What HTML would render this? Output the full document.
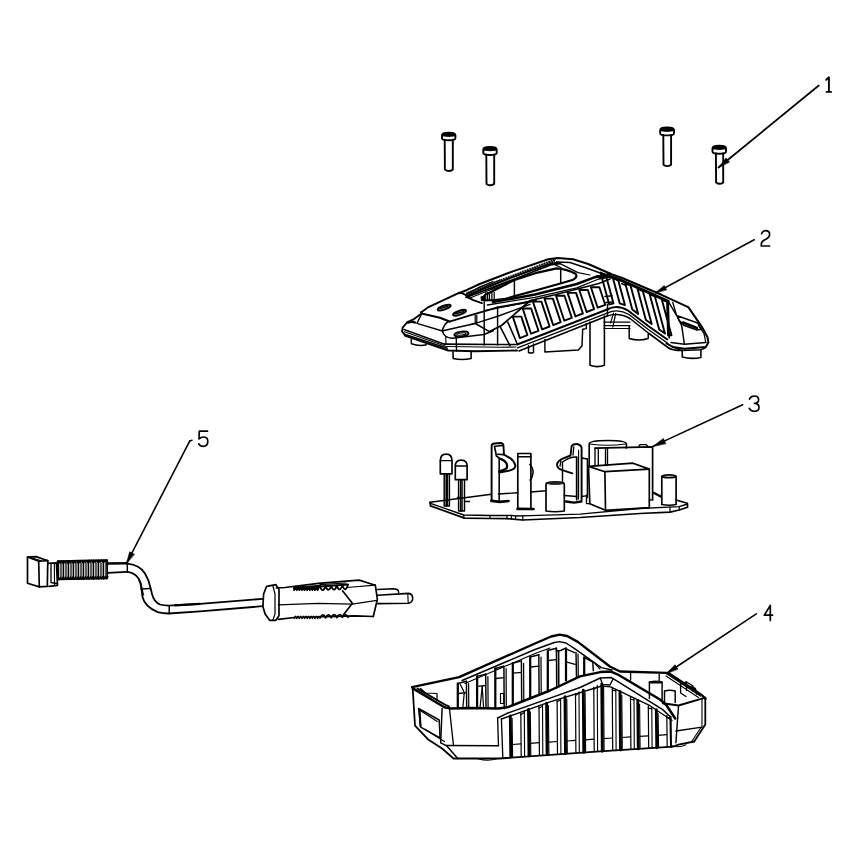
<!DOCTYPE html>
<html><head><meta charset="utf-8">
<style>html,body{margin:0;padding:0;background:#fff;overflow:hidden}svg{display:block}</style></head>
<body><svg width="841" height="842" viewBox="0 0 841 842" stroke-linejoin="round" stroke-linecap="round">
<rect width="841" height="842" fill="#fff"/>
<path d="M444.7,139.8 L444.9,169.6 Q448.75,172.39999999999998 452.8,169.6 L452.8,139.8" fill="none" stroke="#000" stroke-width="1.90"/>
<path d="M442,135.0 Q442,132.6 448.7,132.6 Q455.4,132.6 455.4,135.0 L455.4,138.3 Q455.4,140.3 448.7,140.3 Q442,140.3 442,138.3 Z" fill="none" stroke="#000" stroke-width="1.90"/>
<path d="M442.3,134.79999999999998 Q442.5,133.0 448.7,133.0 Q454.9,133.0 455.09999999999997,134.79999999999998 L455.09999999999997,135.79999999999998 Q448.7,137.2 442.3,135.79999999999998 Z" fill="#000" stroke="#000" stroke-width="0.90"/>
<path d="M486.3,154.5 L486.5,183.9 Q490.25,186.7 494.2,183.9 L494.2,154.5" fill="none" stroke="#000" stroke-width="1.90"/>
<path d="M483.3,149.3 Q483.3,146.9 490.0,146.9 Q496.7,146.9 496.7,149.3 L496.7,153 Q496.7,155 490.0,155 Q483.3,155 483.3,153 Z" fill="none" stroke="#000" stroke-width="1.90"/>
<path d="M483.6,149.1 Q483.8,147.3 490.0,147.3 Q496.2,147.3 496.4,149.1 L496.4,150.1 Q490.0,151.5 483.6,150.1 Z" fill="#000" stroke="#000" stroke-width="0.90"/>
<path d="M663.3,134.9 L663.5,164.70000000000002 Q667.2,167.5 671.1,164.70000000000002 L671.1,134.9" fill="none" stroke="#000" stroke-width="1.90"/>
<path d="M660.2,129.9 Q660.2,127.5 667.1,127.5 Q674,127.5 674,129.9 L674,133.4 Q674,135.4 667.1,135.4 Q660.2,135.4 660.2,133.4 Z" fill="none" stroke="#000" stroke-width="1.90"/>
<path d="M660.5,129.7 Q660.7,127.9 667.1,127.9 Q673.5,127.9 673.7,129.7 L673.7,130.7 Q667.1,132.1 660.5,130.7 Z" fill="#000" stroke="#000" stroke-width="0.90"/>
<path d="M715.9,153.2 L716.1,182.4 Q719.55,185.2 723.2,182.4 L723.2,153.2" fill="none" stroke="#000" stroke-width="1.90"/>
<path d="M712.5,148.0 Q712.5,145.6 719.25,145.6 Q726,145.6 726,148.0 L726,151.7 Q726,153.7 719.25,153.7 Q712.5,153.7 712.5,151.7 Z" fill="none" stroke="#000" stroke-width="1.90"/>
<path d="M712.8,147.79999999999998 Q713.0,146.0 719.25,146.0 Q725.5,146.0 725.7,147.79999999999998 L725.7,148.79999999999998 Q719.25,150.2 712.8,148.79999999999998 Z" fill="#000" stroke="#000" stroke-width="0.90"/>
<path d="M818.8,85.5 L718.5,167.5" fill="none" stroke="#000" stroke-width="1.68"/>
<path d="M718.5,167.5 L726.1,157.9 L729.4,161.9 Z" fill="#000" stroke="#000" stroke-width="0.56"/>
<path d="M754.2,239.7 L655.7,292.8" fill="none" stroke="#000" stroke-width="1.57"/>
<path d="M655.7,292.8 L664.2,285.5 L666.5,289.7 Z" fill="#000" stroke="#000" stroke-width="0.56"/>
<path d="M742.7,404.7 L652.8,446.4" fill="none" stroke="#000" stroke-width="1.57"/>
<path d="M652.8,446.4 L663.4,438.4 L665.8,443.5 Z" fill="#000" stroke="#000" stroke-width="0.56"/>
<path d="M756.3,613.8 L666.4,673.5" fill="none" stroke="#000" stroke-width="1.57"/>
<path d="M666.4,673.5 L675.0,664.7 L677.8,669.0 Z" fill="#000" stroke="#000" stroke-width="0.56"/>
<path d="M192.0,440.3 L189.8,440.9" fill="none" stroke="#000" stroke-width="1.57"/>
<path d="M189.8,440.9 L126.4,563.7" fill="none" stroke="#000" stroke-width="1.57"/>
<path d="M126.4,563.7 L129.6,551.8 L134.2,554.2 Z" fill="#000" stroke="#000" stroke-width="0.56"/>
<path d="M826.2,79.8 L828.9,77.3 L828.9,91.9 M826.6,91.9 L831.1,91.9" fill="none" stroke="#000" stroke-width="1.90"/>
<path d="M761.6,233.6 Q762.8,230.6 765.6,230.6 Q769.6,230.6 769.6,234.3 Q769.6,237.6 765.8,239.2 Q761.3,241.2 761.3,244.2 L761.3,246 L769.6,246" fill="none" stroke="#000" stroke-width="1.68"/>
<path d="M749.5,399 Q751,396 754.2,396 Q758.6,396 758.6,399.8 Q758.6,403.2 754.5,403.4 Q759,403.6 759,407.5 Q759,411.3 754.2,411.3 Q750.5,411.3 749.3,408.3" fill="none" stroke="#000" stroke-width="1.68"/>
<path d="M770.3,620.4 L770.3,605.4 L764.3,615.2 L772.6,615.2" fill="none" stroke="#000" stroke-width="1.68"/>
<path d="M207.5,431.2 L199.3,431.2 L199,438.8 Q201,437 203.5,437 Q207.8,437 207.8,441.5 Q207.8,446.3 203.2,446.3 Q200,446.3 198.8,443.8" fill="none" stroke="#000" stroke-width="1.68"/>
<path d="M421.0,312.5 L428.5,307.1 L459.0,292.8 L461.9,293.1 L465.7,295.0 L467.6,297.4 L473.3,300.2 L481.9,303.1" fill="none" stroke="#000" stroke-width="1.90"/>
<path d="M421.0,312.5 L422.6,313.8 L440.0,317.8 L449.5,321.6" fill="none" stroke="#000" stroke-width="2.13"/>
<path d="M449.5,321.6 L470.0,315.3 L498.5,307.1 L530.0,301.8 L536.0,300.0" fill="none" stroke="#000" stroke-width="1.90"/>
<path d="M484.7,310.7 L520.0,303.6 L532.0,300.5" fill="none" stroke="#000" stroke-width="1.34"/>
<ellipse cx="444.2" cy="307.6" rx="6.8" ry="1.9" transform="rotate(-19 444.2 307.6)" fill="none" stroke="#000" stroke-width="2.02"/>
<path d="M440.5,308.6 L448.0,306.3" fill="none" stroke="#000" stroke-width="1.46"/>
<ellipse cx="459.5" cy="312.8" rx="6.8" ry="1.9" transform="rotate(-19 459.5 312.8)" fill="none" stroke="#000" stroke-width="2.02"/>
<path d="M455.8,313.8 L463.3,311.6" fill="none" stroke="#000" stroke-width="1.46"/>
<path d="M465.7,294.5 L480.0,286.9 L493.0,281.5" fill="none" stroke="#000" stroke-width="1.23"/>
<path d="M468.5,296.4 L487.6,285.5 L500.0,280.0" fill="none" stroke="#000" stroke-width="1.23"/>
<path d="M470.0,298.0 L490.0,290.0 L505.0,285.0" fill="none" stroke="#000" stroke-width="1.12"/>
<path d="M481,297 L484.5,296 L484.7,301 L481.5,300.5 Z" fill="#000" stroke="#000" stroke-width="1.12"/>
<path d="M421.6,313.4 L414.0,319.1 L407.4,322.0 L402.6,327.7 L402.1,331.5 L405.5,335.8" fill="none" stroke="#000" stroke-width="1.90"/>
<path d="M408,322.5 Q412,321 415,322.5" fill="none" stroke="#000" stroke-width="2.46"/>
<path d="M421.6,314.0 L416.9,323.4 L442.4,331.0" fill="none" stroke="#000" stroke-width="1.46"/>
<path d="M448.6,321.2 Q443.5,325 442.4,330.7 Q443,334.5 445.7,336.4 Q448,338 452.4,338.3 L483.8,334.5 L493.3,330.7" fill="none" stroke="#000" stroke-width="1.57"/>
<path d="M442.9,330.7 L475.2,323.5 L489.5,331.6" fill="none" stroke="#000" stroke-width="1.46"/>
<path d="M475.2,315.4 L475.2,323.5" fill="none" stroke="#000" stroke-width="1.23"/>
<path d="M476.8,315.0 L476.8,323.0" fill="none" stroke="#000" stroke-width="1.23"/>
<path d="M404.0,329.5 L444.5,344.2" fill="none" stroke="#000" stroke-width="1.46"/>
<path d="M404.5,331.8 L446.4,346.5" fill="none" stroke="#000" stroke-width="1.12"/>
<path d="M404.5,334.3 L447.2,348.3" fill="none" stroke="#000" stroke-width="1.46"/>
<path d="M405.5,335.8 L448.3,350.5 L475.0,351.2 L517.0,350.5" fill="none" stroke="#000" stroke-width="1.90"/>
<path d="M444.5,344.2 L500.0,344.5 L517.0,344.5" fill="none" stroke="#000" stroke-width="1.68"/>
<path d="M446.4,346.5 L500.0,347.2 L516.0,347.0" fill="none" stroke="#000" stroke-width="1.12"/>
<ellipse cx="461.4" cy="334.0" rx="7.1" ry="2.4" transform="rotate(-8 461.4 334.0)" fill="none" stroke="#000" stroke-width="1.90"/>
<ellipse cx="461.4" cy="334.0" rx="4.5" ry="1.0" transform="rotate(-8 461.4 334.0)" fill="none" stroke="#000" stroke-width="1.23"/>
<path d="M456.2,336.0 L456.5,351.0" fill="none" stroke="#000" stroke-width="1.34"/>
<path d="M470.0,324.6 L479.3,322.1 L498.5,316.0 L530.0,304.3" fill="none" stroke="#000" stroke-width="1.34"/>
<path d="M445.7,336.4 L446.0,344.0" fill="none" stroke="#000" stroke-width="1.12"/>
<path d="M411.2,339.5 L411.4,343.8 Q419,346.5 426.4,344.8" fill="none" stroke="#000" stroke-width="1.46"/>
<path d="M453,352 L453.2,358.6 Q462,360.5 471.1,358.6 L471.1,352" fill="none" stroke="#000" stroke-width="1.57"/>
<path d="M528.5,345.7 L528.5,352.5 Q531,353.5 533.5,352.5 L533.5,344" fill="none" stroke="#000" stroke-width="1.46"/>
<path d="M459.0,293.1 L466.4,290.2 L479.7,284.0 L512.1,271.6 L548.2,259.3 L557.7,257.9 L573.0,259.3 L588.2,264.0 L612.1,274.5 L621.6,277.7 L661.5,294.8 L688.2,307.2" fill="none" stroke="#000" stroke-width="2.02"/>
<path d="M466.4,296.0 L512.1,277.3 L550.1,264.0 L557.7,262.1 L570.0,262.5 L585.0,267.5 L610.0,276.5" fill="none" stroke="#000" stroke-width="1.46"/>
<path d="M466.0,295.5 L467.3,292.3" fill="none" stroke="#000" stroke-width="1.12"/>
<path d="M467.7,294.8 L469.0,291.6" fill="none" stroke="#000" stroke-width="1.12"/>
<path d="M469.5,294.2 L470.8,291.0" fill="none" stroke="#000" stroke-width="1.12"/>
<path d="M471.2,293.5 L472.5,290.3" fill="none" stroke="#000" stroke-width="1.12"/>
<path d="M472.9,292.9 L474.2,289.7" fill="none" stroke="#000" stroke-width="1.12"/>
<path d="M474.6,292.2 L475.9,289.0" fill="none" stroke="#000" stroke-width="1.12"/>
<path d="M476.4,291.6 L477.7,288.4" fill="none" stroke="#000" stroke-width="1.12"/>
<path d="M478.1,290.9 L479.4,287.7" fill="none" stroke="#000" stroke-width="1.12"/>
<path d="M479.8,290.2 L481.1,287.0" fill="none" stroke="#000" stroke-width="1.12"/>
<path d="M481.5,289.6 L482.8,286.4" fill="none" stroke="#000" stroke-width="1.12"/>
<path d="M483.3,288.9 L484.6,285.7" fill="none" stroke="#000" stroke-width="1.12"/>
<path d="M485.0,288.3 L486.3,285.1" fill="none" stroke="#000" stroke-width="1.12"/>
<path d="M486.7,287.6 L488.0,284.4" fill="none" stroke="#000" stroke-width="1.12"/>
<path d="M488.4,287.0 L489.7,283.8" fill="none" stroke="#000" stroke-width="1.12"/>
<path d="M490.2,286.3 L491.5,283.1" fill="none" stroke="#000" stroke-width="1.12"/>
<path d="M491.9,285.6 L493.2,282.4" fill="none" stroke="#000" stroke-width="1.12"/>
<path d="M493.6,285.0 L494.9,281.8" fill="none" stroke="#000" stroke-width="1.12"/>
<path d="M495.3,284.3 L496.6,281.1" fill="none" stroke="#000" stroke-width="1.12"/>
<path d="M497.1,283.7 L498.4,280.5" fill="none" stroke="#000" stroke-width="1.12"/>
<path d="M498.8,283.0 L500.1,279.8" fill="none" stroke="#000" stroke-width="1.12"/>
<path d="M500.5,282.4 L501.8,279.2" fill="none" stroke="#000" stroke-width="1.12"/>
<path d="M502.2,281.7 L503.5,278.5" fill="none" stroke="#000" stroke-width="1.12"/>
<path d="M504.0,281.0 L505.3,277.8" fill="none" stroke="#000" stroke-width="1.12"/>
<path d="M505.7,280.4 L507.0,277.2" fill="none" stroke="#000" stroke-width="1.12"/>
<path d="M507.4,279.7 L508.7,276.5" fill="none" stroke="#000" stroke-width="1.12"/>
<path d="M509.1,279.1 L510.4,275.9" fill="none" stroke="#000" stroke-width="1.12"/>
<path d="M510.9,278.4 L512.2,275.2" fill="none" stroke="#000" stroke-width="1.12"/>
<path d="M512.6,277.8 L513.9,274.6" fill="none" stroke="#000" stroke-width="1.12"/>
<path d="M514.3,277.1 L515.6,273.9" fill="none" stroke="#000" stroke-width="1.12"/>
<path d="M516.0,276.5 L517.3,273.3" fill="none" stroke="#000" stroke-width="1.12"/>
<path d="M517.8,275.8 L519.1,272.6" fill="none" stroke="#000" stroke-width="1.12"/>
<path d="M519.5,275.1 L520.8,271.9" fill="none" stroke="#000" stroke-width="1.12"/>
<path d="M521.2,274.5 L522.5,271.3" fill="none" stroke="#000" stroke-width="1.12"/>
<path d="M522.9,273.8 L524.2,270.6" fill="none" stroke="#000" stroke-width="1.12"/>
<path d="M524.7,273.2 L526.0,270.0" fill="none" stroke="#000" stroke-width="1.12"/>
<path d="M526.4,272.5 L527.7,269.3" fill="none" stroke="#000" stroke-width="1.12"/>
<path d="M528.1,271.9 L529.4,268.7" fill="none" stroke="#000" stroke-width="1.12"/>
<path d="M529.8,271.2 L531.1,268.0" fill="none" stroke="#000" stroke-width="1.12"/>
<path d="M531.6,270.5 L532.9,267.3" fill="none" stroke="#000" stroke-width="1.12"/>
<path d="M533.3,269.9 L534.6,266.7" fill="none" stroke="#000" stroke-width="1.12"/>
<path d="M535.0,269.2 L536.3,266.0" fill="none" stroke="#000" stroke-width="1.12"/>
<path d="M536.7,268.6 L538.0,265.4" fill="none" stroke="#000" stroke-width="1.12"/>
<path d="M538.5,267.9 L539.8,264.7" fill="none" stroke="#000" stroke-width="1.12"/>
<path d="M540.2,267.3 L541.5,264.1" fill="none" stroke="#000" stroke-width="1.12"/>
<path d="M541.9,266.6 L543.2,263.4" fill="none" stroke="#000" stroke-width="1.12"/>
<path d="M543.6,265.9 L544.9,262.7" fill="none" stroke="#000" stroke-width="1.12"/>
<path d="M545.4,265.3 L546.7,262.1" fill="none" stroke="#000" stroke-width="1.12"/>
<path d="M547.1,264.6 L548.4,261.4" fill="none" stroke="#000" stroke-width="1.12"/>
<path d="M548.8,264.0 L550.1,260.8" fill="none" stroke="#000" stroke-width="1.12"/>
<path d="M550.5,263.3 L551.8,260.1" fill="none" stroke="#000" stroke-width="1.12"/>
<path d="M552.3,262.7 L553.6,259.5" fill="none" stroke="#000" stroke-width="1.12"/>
<path d="M554.0,262.0 L555.3,258.8" fill="none" stroke="#000" stroke-width="1.12"/>
<path d="M466.0,297.5 L512.1,280.0 L551.8,264.5 L560.0,263.5" fill="none" stroke="#000" stroke-width="1.79"/>
<path d="M483,298.5 Q484,294.5 488,293.5 L513.8,280.3 L537.6,272.6 L556.6,268.4 Q567.3,269.2 575.6,273.8 Q578,276.8 573.2,279.7 L561.3,283.3 L539.9,289.2 L513.8,296.4 L505.5,298.8 L493,300.2 L484.5,300.2" fill="none" stroke="#000" stroke-width="2.13"/>
<path d="M490.0,289.2 L513.8,280.3" fill="none" stroke="#000" stroke-width="1.12"/>
<path d="M551.8,263.1 L561.3,267.8" fill="none" stroke="#000" stroke-width="1.23"/>
<path d="M556.6,261.9 L578.0,272.6 L590.0,275.0" fill="none" stroke="#000" stroke-width="1.23"/>
<path d="M514.4,280.3 L514.4,295.2" fill="none" stroke="#000" stroke-width="1.46"/>
<path d="M560.7,269.6 L560.7,283.3" fill="none" stroke="#000" stroke-width="1.46"/>
<path d="M485.7,292.6 L485.7,300.7" fill="none" stroke="#000" stroke-width="1.23"/>
<path d="M487.6,292.6 L487.6,300.7" fill="none" stroke="#000" stroke-width="1.23"/>
<path d="M489.5,292.6 L489.5,300.7" fill="none" stroke="#000" stroke-width="1.23"/>
<path d="M491.9,292.6 L491.9,300.7" fill="none" stroke="#000" stroke-width="1.23"/>
<path d="M494.2,292.6 L494.2,300.7" fill="none" stroke="#000" stroke-width="1.23"/>
<path d="M484.2,302.1 L484.2,345.0" fill="none" stroke="#000" stroke-width="1.46"/>
<path d="M497.6,306.9 L497.6,345.0" fill="none" stroke="#000" stroke-width="1.46"/>
<path d="M493.0,302.1 L534.9,294.5 L576.8,284.0 L593.0,277.8 L610.2,273.9" fill="none" stroke="#000" stroke-width="2.46"/>
<path d="M487.3,305.0 L534.9,297.3 L576.8,287.8 L598.8,279.0 L610.2,277.0" fill="none" stroke="#000" stroke-width="1.34"/>
<path d="M489.5,331.6 L501.5,325.5 L530.3,300.5 L555.0,294.8 L598.8,283.5 L610.0,279.0" fill="none" stroke="#000" stroke-width="1.68"/>
<path d="M500.0,326.4 L510.0,345.7" fill="none" stroke="#000" stroke-width="1.57"/>
<path d="M507.8,322.1 L517.1,343.5" fill="none" stroke="#000" stroke-width="1.57"/>
<path d="M517.2,344.5 L607.1,309.5" fill="none" stroke="#000" stroke-width="1.90"/>
<path d="M517.5,347.8 L607.1,313.2" fill="none" stroke="#000" stroke-width="1.34"/>
<path d="M519.0,351.0 L607.1,316.0" fill="none" stroke="#000" stroke-width="1.57"/>
<path d="M607.5,304.3 L607.5,315.7" fill="none" stroke="#000" stroke-width="1.46"/>
<path d="M512.8,316.6 L519.9,338.1 L527.4,335.1 L521.3,316.6 Z" fill="none" stroke="#000" stroke-width="1.90"/>
<path d="M522.7,308.5 L531.0,333.7 L538.5,330.8 L531.1,308.5 Z" fill="none" stroke="#000" stroke-width="1.90"/>
<path d="M532.9,301.6 L542.1,329.4 L549.6,326.5 L541.4,301.6 Z" fill="none" stroke="#000" stroke-width="1.90"/>
<path d="M544.5,298.6 L553.2,325.1 L560.7,322.1 L552.9,298.6 Z" fill="none" stroke="#000" stroke-width="1.90"/>
<path d="M556.0,295.7 L564.3,320.7 L571.8,317.8 L564.5,295.7 Z" fill="none" stroke="#000" stroke-width="1.90"/>
<path d="M567.6,292.9 L575.4,316.4 L582.9,313.5 L576.1,292.9 Z" fill="none" stroke="#000" stroke-width="1.90"/>
<path d="M579.3,290.0 L586.6,312.0 L594.1,309.1 L587.8,290.0 Z" fill="none" stroke="#000" stroke-width="1.90"/>
<path d="M590.9,287.2 L597.7,307.7 L605.2,304.8 L599.4,287.2 Z" fill="none" stroke="#000" stroke-width="1.90"/>
<path d="M607.1,309.5 Q617,304 628,310.5 L648.3,326 L667.3,339.5" fill="none" stroke="#000" stroke-width="2.02"/>
<path d="M607.1,313.2 Q618,308 629,314.5 L648.3,329.5 L667.3,343" fill="none" stroke="#000" stroke-width="1.34"/>
<path d="M607.1,316 Q619,312 630,318.5 L648.3,333 L668,347.5 Q672,350.5 682,350.5" fill="none" stroke="#000" stroke-width="1.57"/>
<path d="M605.0,296.4 L612.1,295.8" fill="none" stroke="#000" stroke-width="1.46"/>
<path d="M605.8,302.6 L612.6,302.0" fill="none" stroke="#000" stroke-width="1.46"/>
<path d="M604.0,322.1 L630.0,322.1" fill="none" stroke="#000" stroke-width="1.23"/>
<path d="M604.0,325.7 L630.0,325.7" fill="none" stroke="#000" stroke-width="1.23"/>
<path d="M604.0,328.5 L630.0,328.5" fill="none" stroke="#000" stroke-width="1.23"/>
<path d="M615.7,313.5 L612.8,327.1" fill="none" stroke="#000" stroke-width="1.23"/>
<path d="M613.5,313.0 L610.5,323.0" fill="none" stroke="#000" stroke-width="1.12"/>
<path d="M597.0,276.5 L610.0,276.5 L621.6,280.5 L650.0,293.2 L668.2,301.3" fill="none" stroke="#000" stroke-width="2.91"/>
<path d="M600.5,272.5 L609.2,304.6 L613.5,303.4 L605.8,274.9 Z" fill="none" stroke="#000" stroke-width="1.90"/>
<path d="M612.9,278.0 L619.7,303.3 L624.9,305.1 L618.2,280.3 Z" fill="none" stroke="#000" stroke-width="1.90"/>
<path d="M625.3,283.4 L632.3,309.5 L638.2,314.0 L630.6,285.7 Z" fill="none" stroke="#000" stroke-width="1.90"/>
<path d="M637.5,288.8 L645.9,319.9 L651.7,324.1 L642.8,291.1 Z" fill="none" stroke="#000" stroke-width="1.90"/>
<path d="M649.6,294.1 L659.2,329.4 L665.0,333.6 L654.9,296.5 Z" fill="none" stroke="#000" stroke-width="1.90"/>
<path d="M661.8,299.5 L671.5,335.3 L668.0,335.2 L667.1,301.8 Z" fill="none" stroke="#000" stroke-width="1.90"/>
<path d="M621.7,283.5 L626.0,285.5" fill="none" stroke="#000" stroke-width="1.46"/>
<path d="M668.2,301.3 L669.2,337.7" fill="none" stroke="#000" stroke-width="1.68"/>
<path d="M688.2,307.2 L689.7,309.1 L702.2,327.4 L707.5,337.2 L708.4,342.5 L705.8,347.0 L684.4,348.8 L672.8,347.0 L666.6,343.4" fill="none" stroke="#000" stroke-width="2.02"/>
<path d="M698.6,325.6 L704.0,333.6 L705.8,342.5" fill="none" stroke="#000" stroke-width="1.23"/>
<path d="M671.0,342.5 L684.4,344.3 L705.8,342.5" fill="none" stroke="#000" stroke-width="1.46"/>
<path d="M668.4,301.6 L677.3,316.7 L681.7,325.6 L684.4,344.3" fill="none" stroke="#000" stroke-width="1.46"/>
<path d="M672.8,302.5 L676.4,314.9" fill="none" stroke="#000" stroke-width="1.34"/>
<path d="M677.3,315.8 L697.7,323.0 L701.3,329.2 L696.9,330.1 L684.4,325.6 L679.0,320.3 L677.3,315.8 Z" fill="none" stroke="#000" stroke-width="1.57"/>
<path d="M683.0,322.5 L697.0,328.0" fill="none" stroke="#000" stroke-width="2.46"/>
<path d="M672.0,346.5 L681.7,350.6 L701.3,349.7 L705.0,348.0" fill="none" stroke="#000" stroke-width="1.46"/>
<path d="M682.2,350 L682.3,357 Q691,359.5 700.9,357.5 L700.9,349.7" fill="none" stroke="#000" stroke-width="1.57"/>
<path d="M590,322 L590,365.2 Q597.2,368 604.4,365.2 L604.4,316" fill="none" stroke="#000" stroke-width="1.57"/>
<path d="M629.2,326 L629.2,338.5 Q638.7,341.5 648.2,338.5 L648.2,334" fill="none" stroke="#000" stroke-width="1.46"/>
<path d="M544.9,339.5 L544.9,352.1 L578.5,350.0 L582.0,345.7 L582.7,329.3 L586.3,328.6 L586.3,323.6" fill="none" stroke="#000" stroke-width="1.46"/>
<path d="M430.0,502.3 L491.5,494.3" fill="none" stroke="#000" stroke-width="1.46"/>
<path d="M498.5,493.9 L517.8,492.8" fill="none" stroke="#000" stroke-width="1.46"/>
<path d="M530.9,492.0 L546.0,490.8" fill="none" stroke="#000" stroke-width="1.46"/>
<path d="M652.8,492.1 L661.4,497.1" fill="none" stroke="#000" stroke-width="1.46"/>
<path d="M676.0,500.0 L687.4,503.3 L687.6,507.2 L679.2,510.0 L670.0,512.1 L640.0,513.5 L580.0,517.5 L522.8,520.0 L515.6,519.3 L507.0,518.6 L490.0,518.5 L464.5,518.1 L430.5,505.9 L430.0,502.3" fill="none" stroke="#000" stroke-width="1.68"/>
<path d="M430.5,503.3 L463.7,515.0 L490.0,515.5 L507.0,515.5 L511.3,515.3 L515.6,516.0 L530.0,515.6 L580.0,514.2 L640.0,508.5 L668.5,507.1 L679.2,506.7 L687.4,504.0" fill="none" stroke="#000" stroke-width="1.34"/>
<path d="M463.8,515.2 L463.8,518.2" fill="none" stroke="#000" stroke-width="1.23"/>
<path d="M490.0,515.5 L490.0,518.5" fill="none" stroke="#000" stroke-width="1.23"/>
<path d="M507.0,515.5 L507.0,518.6" fill="none" stroke="#000" stroke-width="1.23"/>
<path d="M511.3,515.3 L511.3,519.0" fill="none" stroke="#000" stroke-width="1.23"/>
<path d="M515.6,516.0 L515.6,519.3" fill="none" stroke="#000" stroke-width="1.23"/>
<path d="M522.8,515.8 L522.8,520.0" fill="none" stroke="#000" stroke-width="1.23"/>
<path d="M670.0,507.0 L670.0,512.0" fill="none" stroke="#000" stroke-width="1.23"/>
<path d="M679.2,506.7 L679.2,510.0" fill="none" stroke="#000" stroke-width="1.23"/>
<path d="M440.3,460.7 Q440.3,454.2 446.2,454.2 Q452,454.2 452,460.7 L452,473.8 L440.3,473.8 Z" fill="none" stroke="#000" stroke-width="1.68"/>
<path d="M440.3,460.7 L452.0,460.7" fill="none" stroke="#000" stroke-width="1.34"/>
<path d="M444.2,473.8 L444.2,505.9 L449.4,505.9 L449.4,473.8" fill="none" stroke="#000" stroke-width="1.46"/>
<path d="M446.3,474.0 L446.3,505.5" fill="none" stroke="#000" stroke-width="1.79"/>
<path d="M447.6,474.0 L447.6,505.5" fill="none" stroke="#000" stroke-width="1.12"/>
<path d="M455.3,466 Q455.3,460.1 461.2,460.1 Q467.1,460.1 467.1,466 L467.1,479.7 L455.3,479.7 Z" fill="none" stroke="#000" stroke-width="1.68"/>
<path d="M455.3,466.0 L467.1,466.0" fill="none" stroke="#000" stroke-width="1.34"/>
<path d="M458.6,479.7 L458.6,511.1 L464.5,511.1 L464.5,479.7" fill="none" stroke="#000" stroke-width="1.46"/>
<path d="M460.8,480.0 L460.8,510.8" fill="none" stroke="#000" stroke-width="1.79"/>
<path d="M462.2,480.0 L462.2,510.8" fill="none" stroke="#000" stroke-width="1.12"/>
<path d="M457.5,497.8 L459.0,497.0" fill="none" stroke="#000" stroke-width="1.57"/>
<path d="M464.5,501.5 L469.5,501.5" fill="none" stroke="#000" stroke-width="1.34"/>
<path d="M491.6,500.6 L491.6,445.6 Q492,443.7 494.5,443.5 L500.2,443 Q503,443 503.4,445 L504,454.6 L510.6,458.4 Q514.4,461.2 515.4,465.5 Q515,468.5 513.5,468.9 Q511,470.5 508.7,470.8 L499.2,472.5" fill="none" stroke="#000" stroke-width="1.90"/>
<path d="M494.5,446.3 L496.4,456.0 L499.2,458.0" fill="none" stroke="#000" stroke-width="1.68"/>
<path d="M495.4,446.2 L502.6,445.5" fill="none" stroke="#000" stroke-width="1.46"/>
<path d="M497.3,454.3 L504.0,454.6" fill="none" stroke="#000" stroke-width="1.57"/>
<path d="M500.7,458.9 Q505,460.5 506.6,463.5 Q507.6,466.5 506.8,468 Q505,470 499.2,471.3" fill="none" stroke="#000" stroke-width="2.35"/>
<path d="M499.2,458.5 L499.2,500.6" fill="none" stroke="#000" stroke-width="1.57"/>
<path d="M491.4,500.8 L500,501.8 L508.5,501" fill="none" stroke="#000" stroke-width="2.69"/>
<path d="M517.8,508.5 L517.8,453.5 L530.9,453.5 L530.9,508.5" fill="none" stroke="#000" stroke-width="1.68"/>
<path d="M517.8,456.8 L530.9,456.8" fill="none" stroke="#000" stroke-width="1.46"/>
<path d="M529.8,464.5 Q533.5,468 533,473 Q532.5,478 530,480" fill="none" stroke="#000" stroke-width="1.46"/>
<path d="M517.5,508.8 L533.5,509" fill="none" stroke="#000" stroke-width="2.69"/>
<path d="M546,484 Q546,482 555.2,482 Q564.3,482 564.3,484 L564.3,511 Q555.2,512.5 546,511 Z" fill="none" stroke="#000" stroke-width="1.68"/>
<ellipse cx="555.2" cy="483.0" rx="8.6" ry="1.2" transform="rotate(0 555.2 483.0)" fill="#333" stroke="#000" stroke-width="1.12"/>
<path d="M562.5,482 L562.5,462 Q570,456.5 576.5,457" fill="none" stroke="#000" stroke-width="1.46"/>
<path d="M581.6,458.0 L587.4,459.0" fill="none" stroke="#000" stroke-width="1.34"/>
<path d="M587.4,459.0 L587.4,497.5" fill="none" stroke="#000" stroke-width="1.46"/>
<path d="M564.3,495.6 L576.7,496.5" fill="none" stroke="#000" stroke-width="1.46"/>
<path d="M581.6,496.5 L587.4,495.6" fill="none" stroke="#000" stroke-width="1.46"/>
<path d="M581.6,500.5 L581.6,447.5 Q580.5,444.5 577,444 Q573,443.8 571.6,446 L570.5,455.5 L561.6,459.1 Q556.5,462 557.1,465.5 Q558,469 561.6,469.8 L572.3,473.3" fill="none" stroke="#000" stroke-width="1.90"/>
<path d="M576.7,457.3 L576.7,499.5" fill="none" stroke="#000" stroke-width="1.79"/>
<path d="M578.6,450.0 L578.6,499.0" fill="none" stroke="#000" stroke-width="1.12"/>
<path d="M573.8,447.0 L573.0,455.0" fill="none" stroke="#000" stroke-width="1.34"/>
<path d="M561.0,461.0 L560.0,466.0" fill="none" stroke="#000" stroke-width="1.34"/>
<path d="M566,501.5 L574,502.6 L581.2,501.5" fill="none" stroke="#000" stroke-width="2.46"/>
<path d="M589.2,466 L589.2,444 Q589.2,440.5 607.8,440.5 Q626.4,440.5 626.4,444 L626.4,448" fill="none" stroke="#000" stroke-width="1.68"/>
<path d="M590,444 Q607.8,446.5 625.5,444" fill="none" stroke="#000" stroke-width="1.23"/>
<path d="M595.0,448.1 L652.6,446.8 L652.6,499.8" fill="none" stroke="#000" stroke-width="1.68"/>
<path d="M638.9,446.4 L640.0,444.6 L646.0,444.6 L648.0,446.4" fill="none" stroke="#000" stroke-width="1.34"/>
<path d="M595.0,448.2 L595.0,465.5" fill="none" stroke="#000" stroke-width="1.34"/>
<path d="M598.3,448.2 L598.3,465.5" fill="none" stroke="#000" stroke-width="1.34"/>
<path d="M605.5,448.2 L605.5,465.5" fill="none" stroke="#000" stroke-width="1.34"/>
<path d="M607.5,448.2 L607.5,465.5" fill="none" stroke="#000" stroke-width="1.34"/>
<path d="M652.6,499.8 L649.3,500.0" fill="none" stroke="#000" stroke-width="1.34"/>
<path d="M589.8,503.7 L586.5,503.5 L586.5,495.0" fill="none" stroke="#000" stroke-width="1.34"/>
<path d="M588.5,466.4 L633.0,463.2 L649.3,469.1 L604.9,471.7 L588.5,466.4 Z" fill="none" stroke="#000" stroke-width="1.68"/>
<path d="M604.9,471.7 L605.5,510.3 L649.3,507.6 L649.3,469.1" fill="none" stroke="#000" stroke-width="1.68"/>
<path d="M588.5,466.4 L589.8,503.7 L605.5,510.3" fill="none" stroke="#000" stroke-width="1.68"/>
<path d="M661.8,476.5 Q661.8,474.8 669,474.8 Q676.1,474.8 676.1,476.5 L676.1,504.5 Q669,506 661.8,504.5 Z" fill="none" stroke="#000" stroke-width="1.68"/>
<path d="M662.3,476.8 Q669,478.5 675.6,476.8" fill="none" stroke="#000" stroke-width="1.79"/>
<path d="M654.0,493.0 L661.0,496.5" fill="none" stroke="#000" stroke-width="2.24"/>
<path d="M412.1,687.1 L459.2,677.1 L535.0,643.5 L551.1,636.5 L559.6,634.6 L567.1,636.0 L577.8,641.9 L609.9,666.5 L620.0,671.5 L666.3,672.8 L669.9,673.9 L702.0,695.3 L705.5,698.9" fill="none" stroke="#000" stroke-width="2.35"/>
<path d="M462.1,680.5 L535.0,649.5 L554.3,642.5 L559.6,641.6 L566.0,643.0 L575.7,649.4 L601.4,667.6 L612.0,670.0" fill="none" stroke="#000" stroke-width="1.46"/>
<path d="M464.9,683.5 L535.0,653.5 L550.0,648.0" fill="none" stroke="#000" stroke-width="1.12"/>
<path d="M412.1,687.1 L412.8,690.0 L415.0,725.6 L427.8,739.2 L442.1,748.5 L453.5,758.5 L499.2,758.5 L600.0,751.3 L673.3,746.7 L678.5,744.7 L694.2,741.5" fill="none" stroke="#000" stroke-width="1.79"/>
<path d="M414.1,689.1 L444.4,707.3 L450.7,708.5 L470.0,708.1 L498.5,708.5 L508.0,707.1 L550.0,690.5 L580.0,676.4 L600.3,672.1 L611.0,671.6 L617.4,674.3 L660.0,699.5 L666.3,705.0 L675.2,718.5" fill="none" stroke="#000" stroke-width="2.46"/>
<path d="M417.6,688.6 L446.0,705.2 L449.0,706.3" fill="none" stroke="#000" stroke-width="1.90"/>
<path d="M442.1,708.5 L440.7,742.8 L446.4,745.6 L457.8,758.5" fill="none" stroke="#000" stroke-width="1.46"/>
<path d="M449.5,709.0 L453.5,745.6" fill="none" stroke="#000" stroke-width="1.34"/>
<path d="M446.4,745.6 L498.5,745.7" fill="none" stroke="#000" stroke-width="1.46"/>
<path d="M418.6,708.5 L439.2,720.0 L440.0,737.8 L420.7,727.1 L418.6,708.5 Z" fill="none" stroke="#000" stroke-width="1.46"/>
<path d="M419.5,710.0 L420.5,726.0" fill="none" stroke="#000" stroke-width="2.02"/>
<path d="M420.2,710.5 L437.3,721.5" fill="none" stroke="#000" stroke-width="1.12"/>
<path d="M425.2,729.5 L444.4,741.6" fill="none" stroke="#000" stroke-width="1.23"/>
<path d="M420.6,688.5 L425.5,693.0 L437.0,693.5 L437.0,700.0" fill="none" stroke="#000" stroke-width="1.23"/>
<path d="M497.6,718.0 L498.5,745.7" fill="none" stroke="#000" stroke-width="1.34"/>
<path d="M501.4,719.0 L502.8,757.1" fill="none" stroke="#000" stroke-width="1.34"/>
<path d="M497.6,718.0 L507.1,713.3 L550.0,698.1 L580.0,687.5 L600.3,678.0 L611.0,677.5 L616.4,680.7 L662.7,709.6 L670.0,716.5" fill="none" stroke="#000" stroke-width="1.46"/>
<path d="M600.3,678.0 L602.5,684.4 L610.0,685.0 L613.2,678.6" fill="none" stroke="#000" stroke-width="1.34"/>
<path d="M501.4,719.0 L550.0,701.9 L601.7,686.0 L610.6,686.9 L650.0,705.7 L672.0,720.5" fill="none" stroke="#000" stroke-width="1.34"/>
<path d="M705.3,697.7 L705.3,724.5 L694.2,741.5" fill="none" stroke="#000" stroke-width="1.79"/>
<path d="M678.5,706.2 L675.9,742.8" fill="none" stroke="#000" stroke-width="1.46"/>
<path d="M675.9,731.0 L702.0,727.1" fill="none" stroke="#000" stroke-width="1.34"/>
<path d="M702.0,698.5 L702.0,726.0 L692.0,741.0" fill="none" stroke="#000" stroke-width="1.12"/>
<path d="M702.0,695.3 L704.0,697.0" fill="none" stroke="#000" stroke-width="1.34"/>
<path d="M649.4,698.5 L649.4,682.5 Q655.8,680 662.1,682.5 L662.1,700" fill="none" stroke="#000" stroke-width="1.46"/>
<path d="M650.0,682.3 L661.5,682.3" fill="none" stroke="#000" stroke-width="2.46"/>
<path d="M664.5,702 L664.5,691 Q669.8,689.5 675.2,691 L675.2,702.4" fill="none" stroke="#000" stroke-width="1.46"/>
<path d="M630.6,673.0 L630.6,680.0" fill="none" stroke="#000" stroke-width="1.34"/>
<path d="M659.2,674.5 L659.2,681.0" fill="none" stroke="#000" stroke-width="1.34"/>
<path d="M667.5,674.2 L700.5,696.0" fill="none" stroke="#000" stroke-width="1.46"/>
<path d="M666.0,676.0 L698.5,697.5" fill="none" stroke="#000" stroke-width="1.12"/>
<path d="M680.6,684.0 L686.5,682.0 L693.0,686.0 L693.0,691.5" fill="none" stroke="#000" stroke-width="1.46"/>
<path d="M680.6,684.0 L680.6,693.0 L686.0,696.5" fill="none" stroke="#000" stroke-width="1.34"/>
<path d="M686.5,682.0 L686.5,690.5" fill="none" stroke="#000" stroke-width="1.34"/>
<path d="M689.6,686.5 L695.5,688.5 L696.5,694.0" fill="none" stroke="#000" stroke-width="1.34"/>
<path d="M662.8,703.3 L678.5,705.5 L705.3,697.7" fill="none" stroke="#000" stroke-width="1.90"/>
<path d="M457.8,708.3 L457.8,683.5" fill="none" stroke="#000" stroke-width="2.24"/>
<path d="M457.8,683.5 L466.4,681.2" fill="none" stroke="#000" stroke-width="1.46"/>
<path d="M458.4,693.5 L466.4,692.6" fill="none" stroke="#000" stroke-width="1.34"/>
<path d="M466.4,681.2 L466.7,708.3" fill="none" stroke="#000" stroke-width="1.46"/>
<path d="M468.6,683.7 L468.8,708.3" fill="none" stroke="#000" stroke-width="1.23"/>
<path d="M477.1,708.3 L477.1,676.4" fill="none" stroke="#000" stroke-width="2.24"/>
<path d="M477.1,676.4 L485.7,674.1" fill="none" stroke="#000" stroke-width="1.46"/>
<path d="M477.7,686.4 L485.7,685.5" fill="none" stroke="#000" stroke-width="1.34"/>
<path d="M485.7,674.1 L486.0,708.3" fill="none" stroke="#000" stroke-width="1.46"/>
<path d="M487.9,676.6 L488.1,708.3" fill="none" stroke="#000" stroke-width="1.23"/>
<path d="M495.3,708.3 L495.3,668.5" fill="none" stroke="#000" stroke-width="2.24"/>
<path d="M495.3,668.5 L503.9,666.2" fill="none" stroke="#000" stroke-width="1.46"/>
<path d="M495.9,678.5 L503.9,677.6" fill="none" stroke="#000" stroke-width="1.34"/>
<path d="M503.9,666.2 L504.2,708.7" fill="none" stroke="#000" stroke-width="1.46"/>
<path d="M506.1,668.7 L506.3,707.8" fill="none" stroke="#000" stroke-width="1.23"/>
<path d="M512.8,705.2 L512.8,663.2" fill="none" stroke="#000" stroke-width="2.24"/>
<path d="M512.8,663.2 L521.4,660.9" fill="none" stroke="#000" stroke-width="1.46"/>
<path d="M513.4,673.2 L521.4,672.3" fill="none" stroke="#000" stroke-width="1.34"/>
<path d="M521.4,660.9 L521.7,701.8" fill="none" stroke="#000" stroke-width="1.46"/>
<path d="M523.6,663.4 L523.8,700.9" fill="none" stroke="#000" stroke-width="1.23"/>
<path d="M530.2,698.4 L530.2,657.0" fill="none" stroke="#000" stroke-width="2.24"/>
<path d="M530.2,657.0 L538.8,654.7" fill="none" stroke="#000" stroke-width="1.46"/>
<path d="M530.8,667.0 L538.8,666.1" fill="none" stroke="#000" stroke-width="1.34"/>
<path d="M538.8,654.7 L539.1,695.0" fill="none" stroke="#000" stroke-width="1.46"/>
<path d="M541.0,657.2 L541.2,694.0" fill="none" stroke="#000" stroke-width="1.23"/>
<path d="M547.8,691.4 L547.8,650.5" fill="none" stroke="#000" stroke-width="2.24"/>
<path d="M547.8,650.5 L556.4,648.2" fill="none" stroke="#000" stroke-width="1.46"/>
<path d="M548.4,660.5 L556.4,659.6" fill="none" stroke="#000" stroke-width="1.34"/>
<path d="M556.4,648.2 L556.7,688.0" fill="none" stroke="#000" stroke-width="1.46"/>
<path d="M558.6,650.7 L558.8,687.1" fill="none" stroke="#000" stroke-width="1.23"/>
<path d="M460.3,684.5 L464.3,692.5 L462.8,708.0" fill="none" stroke="#000" stroke-width="1.23"/>
<path d="M482.2,686.7 L480.0,708.0" fill="none" stroke="#000" stroke-width="1.23"/>
<path d="M482.2,686.7 L483.6,708.0" fill="none" stroke="#000" stroke-width="1.23"/>
<path d="M556.4,648.3 L556.4,651.0 L560.7,650.5 L565.0,648.3" fill="none" stroke="#000" stroke-width="1.46"/>
<path d="M558.5,651.0 L558.5,684.2" fill="none" stroke="#000" stroke-width="1.46"/>
<path d="M566.0,648.3 L566.0,680.5" fill="none" stroke="#000" stroke-width="2.24"/>
<path d="M567.1,649.4 L574.6,652.6" fill="none" stroke="#000" stroke-width="1.46"/>
<path d="M567.1,662.2 L575.1,664.4" fill="none" stroke="#000" stroke-width="1.34"/>
<path d="M576.0,652.6 L576.5,677.5" fill="none" stroke="#000" stroke-width="1.46"/>
<path d="M578.0,654.0 L578.3,676.5" fill="none" stroke="#000" stroke-width="1.23"/>
<path d="M584.2,657.4 L584.2,674.5" fill="none" stroke="#000" stroke-width="2.24"/>
<path d="M584.2,657.4 L592.8,662.2 L593.3,670.8" fill="none" stroke="#000" stroke-width="1.46"/>
<path d="M595.0,663.5 L600.0,669.0" fill="none" stroke="#000" stroke-width="1.12"/>
<path d="M500.5,693.5 L500.5,703.5 L503.8,703.5 L503.8,693.5 Z" fill="none" stroke="#000" stroke-width="1.23"/>
<path d="M510.3,715.9 L510.8,757.0" fill="none" stroke="#000" stroke-width="2.91"/>
<path d="M512.1,718.3 L512.6,757.0" fill="none" stroke="#000" stroke-width="1.12"/>
<path d="M520.8,712.7 L521.2,756.3" fill="none" stroke="#000" stroke-width="1.23"/>
<path d="M524.3,711.0 L524.6,756.1" fill="none" stroke="#000" stroke-width="1.12"/>
<path d="M520.8,714.7 L524.3,712.5" fill="none" stroke="#000" stroke-width="1.12"/>
<path d="M512.3,744.5 L520.8,743.8" fill="none" stroke="#000" stroke-width="1.23"/>
<path d="M528.5,709.5 L529.0,755.8" fill="none" stroke="#000" stroke-width="2.91"/>
<path d="M530.3,711.9 L530.8,755.8" fill="none" stroke="#000" stroke-width="1.12"/>
<path d="M539.0,706.3 L539.4,755.1" fill="none" stroke="#000" stroke-width="1.23"/>
<path d="M542.5,704.6 L542.8,754.9" fill="none" stroke="#000" stroke-width="1.12"/>
<path d="M539.0,708.3 L542.5,706.1" fill="none" stroke="#000" stroke-width="1.12"/>
<path d="M530.5,743.3 L539.0,742.6" fill="none" stroke="#000" stroke-width="1.23"/>
<path d="M546.6,703.2 L547.1,754.7" fill="none" stroke="#000" stroke-width="2.91"/>
<path d="M548.4,705.5 L548.9,754.7" fill="none" stroke="#000" stroke-width="1.12"/>
<path d="M557.1,700.0 L557.5,754.0" fill="none" stroke="#000" stroke-width="1.23"/>
<path d="M560.6,698.3 L560.9,753.8" fill="none" stroke="#000" stroke-width="1.12"/>
<path d="M557.1,702.0 L560.6,699.8" fill="none" stroke="#000" stroke-width="1.12"/>
<path d="M548.6,742.2 L557.1,741.5" fill="none" stroke="#000" stroke-width="1.23"/>
<path d="M565.0,696.7 L565.5,753.5" fill="none" stroke="#000" stroke-width="2.91"/>
<path d="M566.8,699.1 L567.3,753.5" fill="none" stroke="#000" stroke-width="1.12"/>
<path d="M575.5,693.6 L575.9,752.8" fill="none" stroke="#000" stroke-width="1.23"/>
<path d="M579.0,691.8 L579.3,752.6" fill="none" stroke="#000" stroke-width="1.12"/>
<path d="M575.5,695.6 L579.0,693.3" fill="none" stroke="#000" stroke-width="1.12"/>
<path d="M567.0,741.0 L575.5,740.3" fill="none" stroke="#000" stroke-width="1.23"/>
<path d="M583.3,690.3 L583.8,752.4" fill="none" stroke="#000" stroke-width="2.91"/>
<path d="M585.1,692.7 L585.6,752.4" fill="none" stroke="#000" stroke-width="1.12"/>
<path d="M593.8,687.2 L594.2,751.7" fill="none" stroke="#000" stroke-width="1.23"/>
<path d="M597.3,685.4 L597.6,751.5" fill="none" stroke="#000" stroke-width="1.12"/>
<path d="M593.8,689.2 L597.3,686.9" fill="none" stroke="#000" stroke-width="1.12"/>
<path d="M585.3,739.9 L593.8,739.2" fill="none" stroke="#000" stroke-width="1.23"/>
<path d="M601.8,683.9 L602.3,751.2" fill="none" stroke="#000" stroke-width="2.91"/>
<path d="M603.6,686.3 L604.1,751.2" fill="none" stroke="#000" stroke-width="1.12"/>
<path d="M612.3,688.1 L612.7,750.5" fill="none" stroke="#000" stroke-width="1.23"/>
<path d="M615.8,689.4 L616.1,750.3" fill="none" stroke="#000" stroke-width="1.12"/>
<path d="M612.3,690.1 L615.8,690.9" fill="none" stroke="#000" stroke-width="1.12"/>
<path d="M603.8,738.7 L612.3,738.0" fill="none" stroke="#000" stroke-width="1.23"/>
<path d="M620.0,691.5 L620.5,750.0" fill="none" stroke="#000" stroke-width="2.91"/>
<path d="M621.8,695.4 L622.3,750.0" fill="none" stroke="#000" stroke-width="1.12"/>
<path d="M630.5,697.2 L630.9,749.4" fill="none" stroke="#000" stroke-width="1.23"/>
<path d="M634.0,698.5 L634.3,749.2" fill="none" stroke="#000" stroke-width="1.12"/>
<path d="M630.5,699.2 L634.0,700.0" fill="none" stroke="#000" stroke-width="1.12"/>
<path d="M622.0,737.5 L630.5,736.9" fill="none" stroke="#000" stroke-width="1.23"/>
<path d="M637.8,700.4 L638.3,748.9" fill="none" stroke="#000" stroke-width="2.91"/>
<path d="M639.6,704.3 L640.1,748.9" fill="none" stroke="#000" stroke-width="1.12"/>
<path d="M648.3,706.1 L648.7,748.3" fill="none" stroke="#000" stroke-width="1.23"/>
<path d="M651.8,707.4 L652.1,748.0" fill="none" stroke="#000" stroke-width="1.12"/>
<path d="M648.3,708.1 L651.8,708.9" fill="none" stroke="#000" stroke-width="1.12"/>
<path d="M639.8,736.4 L648.3,735.8" fill="none" stroke="#000" stroke-width="1.23"/>
<path d="M656.3,709.6 L656.8,747.8" fill="none" stroke="#000" stroke-width="2.91"/>
<path d="M658.1,713.5 L658.6,747.8" fill="none" stroke="#000" stroke-width="1.12"/>
<path d="M666.8,715.4 L667.2,747.1" fill="none" stroke="#000" stroke-width="1.23"/>
<path d="M670.3,716.6 L670.6,746.9" fill="none" stroke="#000" stroke-width="1.12"/>
<path d="M666.8,717.4 L670.3,718.1" fill="none" stroke="#000" stroke-width="1.12"/>
<path d="M658.3,735.3 L666.8,734.6" fill="none" stroke="#000" stroke-width="1.23"/>
<path d="M670.6,716.8 L671.0,747.0" fill="none" stroke="#000" stroke-width="2.02"/>
<path d="M478,758.6 Q487.5,761.8 497,758.8" fill="none" stroke="#000" stroke-width="1.12"/>
<path d="M672,745.8 Q679,748 686,744.8" fill="none" stroke="#000" stroke-width="1.12"/>
<path d="M27.5,557.0 L38.7,561.2 L39.3,586.9 L27.5,583.2 L27.5,557.0 Z" fill="none" stroke="#000" stroke-width="1.68"/>
<path d="M27.5,557.0 L36.1,556.6 L47.8,560.7 L38.7,561.2" fill="none" stroke="#000" stroke-width="1.68"/>
<path d="M47.8,560.7 L47.3,586.4 L39.3,586.9" fill="none" stroke="#000" stroke-width="1.68"/>
<path d="M30.0,557.3 L41.0,560.8" fill="none" stroke="#000" stroke-width="1.12"/>
<path d="M47.8,563.4 L56.4,562.8 L57.5,585.3 L48.9,586.4" fill="none" stroke="#000" stroke-width="1.68"/>
<path d="M51.0,564.5 L51.0,582.5 L56.8,583.5" fill="none" stroke="#000" stroke-width="1.34"/>
<path d="M54.3,564.0 L54.5,584.5" fill="none" stroke="#000" stroke-width="1.12"/>
<path d="M57.5,561.2 L107.2,560 L107.3,578.5 L57.8,579.5 Z" fill="none" stroke="#000" stroke-width="1.68"/>
<path d="M58.5,561.5 L58.5,579.0" fill="none" stroke="#000" stroke-width="1.46"/>
<path d="M60.7,563.0 L60.7,577.5" fill="none" stroke="#000" stroke-width="0.78"/>
<path d="M61.8,563.0 L61.8,577.5" fill="none" stroke="#000" stroke-width="0.78"/>
<path d="M63.5,561.5 L63.5,579.0" fill="none" stroke="#000" stroke-width="1.46"/>
<path d="M65.7,563.0 L65.7,577.5" fill="none" stroke="#000" stroke-width="0.78"/>
<path d="M66.8,563.0 L66.8,577.5" fill="none" stroke="#000" stroke-width="0.78"/>
<path d="M68.5,561.5 L68.5,579.0" fill="none" stroke="#000" stroke-width="1.46"/>
<path d="M70.7,563.0 L70.7,577.5" fill="none" stroke="#000" stroke-width="0.78"/>
<path d="M71.8,563.0 L71.8,577.5" fill="none" stroke="#000" stroke-width="0.78"/>
<path d="M73.5,561.5 L73.5,579.0" fill="none" stroke="#000" stroke-width="1.46"/>
<path d="M75.7,563.0 L75.7,577.5" fill="none" stroke="#000" stroke-width="0.78"/>
<path d="M76.8,563.0 L76.8,577.5" fill="none" stroke="#000" stroke-width="0.78"/>
<path d="M78.5,561.5 L78.5,579.0" fill="none" stroke="#000" stroke-width="1.46"/>
<path d="M80.7,563.0 L80.7,577.5" fill="none" stroke="#000" stroke-width="0.78"/>
<path d="M81.8,563.0 L81.8,577.5" fill="none" stroke="#000" stroke-width="0.78"/>
<path d="M83.5,561.5 L83.5,579.0" fill="none" stroke="#000" stroke-width="1.46"/>
<path d="M85.7,563.0 L85.7,577.5" fill="none" stroke="#000" stroke-width="0.78"/>
<path d="M86.8,563.0 L86.8,577.5" fill="none" stroke="#000" stroke-width="0.78"/>
<path d="M88.5,561.5 L88.5,579.0" fill="none" stroke="#000" stroke-width="1.46"/>
<path d="M90.7,563.0 L90.7,577.5" fill="none" stroke="#000" stroke-width="0.78"/>
<path d="M91.8,563.0 L91.8,577.5" fill="none" stroke="#000" stroke-width="0.78"/>
<path d="M93.5,561.5 L93.5,579.0" fill="none" stroke="#000" stroke-width="1.46"/>
<path d="M95.7,563.0 L95.7,577.5" fill="none" stroke="#000" stroke-width="0.78"/>
<path d="M96.8,563.0 L96.8,577.5" fill="none" stroke="#000" stroke-width="0.78"/>
<path d="M98.5,561.5 L98.5,579.0" fill="none" stroke="#000" stroke-width="1.46"/>
<path d="M100.7,563.0 L100.7,577.5" fill="none" stroke="#000" stroke-width="0.78"/>
<path d="M101.8,563.0 L101.8,577.5" fill="none" stroke="#000" stroke-width="0.78"/>
<path d="M103.5,561.5 L103.5,579.0" fill="none" stroke="#000" stroke-width="1.46"/>
<path d="M105.7,563.0 L105.7,577.5" fill="none" stroke="#000" stroke-width="0.78"/>
<path d="M106.8,563.0 L106.8,577.5" fill="none" stroke="#000" stroke-width="0.78"/>
<path d="M57.5,562.3 L57.5,563.2 L58.8,561.0 L60.0,563.1 L61.2,560.9 L62.5,563.1 L63.8,560.9 L65.0,563.0 L66.2,560.8 L67.5,563.0 L68.8,560.7 L70.0,562.9 L71.2,560.7 L72.5,562.8 L73.8,560.6 L75.0,562.8 L76.2,560.5 L77.5,562.7 L78.8,560.5 L80.0,562.7 L81.2,560.4 L82.5,562.6 L83.8,560.4 L85.0,562.5 L86.2,560.3 L87.5,562.5 L88.8,560.2 L90.0,562.4 L91.2,560.2 L92.5,562.4 L93.8,560.1 L95.0,562.3 L96.2,560.1 L97.5,562.2 L98.8,560.0 L100.0,562.2 L101.2,560.0 L102.5,562.1 L103.8,559.9 L105.0,562.1 L106.2,559.8 L107.5,562.0" fill="none" stroke="#000" stroke-width="1.46"/>
<path d="M57.8,578.3 L57.8,577.4 L59.0,579.6 L60.3,577.4 L61.5,579.5 L62.8,577.3 L64.0,579.5 L65.3,577.2 L66.5,579.4 L67.8,577.2 L69.0,579.4 L70.3,577.1 L71.5,579.3 L72.8,577.1 L74.0,579.3 L75.3,577.0 L76.5,579.2 L77.8,577.0 L79.0,579.2 L80.3,576.9 L81.5,579.1 L82.8,576.9 L84.0,579.1 L85.3,576.9 L86.5,579.0 L87.8,576.8 L89.0,579.0 L90.3,576.8 L91.5,578.9 L92.8,576.7 L94.0,578.9 L95.3,576.6 L96.5,578.8 L97.8,576.6 L99.0,578.8 L100.3,576.5 L101.5,578.7 L102.8,576.5 L104.0,578.7 L105.3,576.4 L106.5,578.6 L107.8,576.4" fill="none" stroke="#000" stroke-width="1.46"/>
<path d="M107.3,563.5 L127.3,563.3" fill="none" stroke="#000" stroke-width="2.46"/>
<path d="M107.3,572.8 L127.3,571.8" fill="none" stroke="#000" stroke-width="1.68"/>
<path d="M127.3,563.3 L127.3,571.8" fill="none" stroke="#000" stroke-width="1.46"/>
<path d="M127.3,563.6 Q140,565 145,573.5 Q149,580 150.7,588.5 L152,594 Q154,602 160,604.5 Q164,605.5 168.5,605.7 L200,603.9 L262.9,598.8" fill="none" stroke="#000" stroke-width="1.79"/>
<path d="M127.3,571.8 Q135,572.5 138.5,578.5 Q141,583 141.6,590 L142.5,597 Q145,607 157.8,612.1 Q163,613.5 168.5,613.5 L200,611.4 L262.9,606.2" fill="none" stroke="#000" stroke-width="1.79"/>
<path d="M134.5,574.5 Q139.5,578 141.2,584 Q142.5,590 143.5,595" fill="none" stroke="#000" stroke-width="1.12"/>
<path d="M140.9,588.9 L150.7,588.6" fill="none" stroke="#000" stroke-width="1.46"/>
<path d="M169.2,605.7 L169.2,613.5" fill="none" stroke="#000" stroke-width="1.46"/>
<path d="M175.0,605.3 L200.0,603.9" fill="none" stroke="#000" stroke-width="2.24"/>
<path d="M266.6,586.3 L263.6,594.0 L262.9,606.4 L265.1,614.1 L269.7,620.3 L275.9,620.3 L279.0,615.6 L279.0,589.4 L275.9,584.7 L266.6,586.3 Z" fill="none" stroke="#000" stroke-width="1.68"/>
<path d="M272.8,585.5 L275.0,594.0 L275.0,614.1 L272.8,620.3" fill="none" stroke="#000" stroke-width="1.23"/>
<path d="M276.3,588.0 L285.0,587.5 L318.3,583.3 L359.2,580.1 L375.3,585.2" fill="none" stroke="#000" stroke-width="1.68"/>
<path d="M278.3,619.3 L294.2,617.5 L355.0,615.8 L373.3,616.5" fill="none" stroke="#000" stroke-width="1.68"/>
<path d="M278.3,604.8 L318.3,603.3 L352.4,604.1 L377.0,600.3" fill="none" stroke="#000" stroke-width="1.34"/>
<path d="M342.5,590.8 L352.4,603.3 L343.3,615.0" fill="none" stroke="#000" stroke-width="1.68"/>
<path d="M375.3,585.2 L377.4,599.3 L373.3,616.5" fill="none" stroke="#000" stroke-width="1.68"/>
<path d="M294.2,588.5 L294.2,590.2 L295.5,586.6 L296.8,590.2 L298.1,586.6 L299.4,590.2 L300.7,586.6 L302.0,590.2 L303.3,586.6 L304.6,590.2 L305.9,586.6 L307.2,590.2 L308.5,586.6 L309.8,590.2 L311.1,586.6 L312.4,590.2 L313.7,586.6 L315.0,590.2 L316.3,586.6 L317.6,590.2 L318.9,586.6" fill="none" stroke="#000" stroke-width="1.79"/>
<path d="M294.2,588.2 L320.0,586.0" fill="none" stroke="#000" stroke-width="2.46"/>
<path d="M320,586.8 Q322.8,593.5 325.6,586.4 Q328.4,593.5 331.2,586.0 Q334.0,593.5 336.8,585.6 Q339.6,593.5 342.4,585.2 Q345.2,593.5 348.0,584.8" fill="none" stroke="#000" stroke-width="1.79"/>
<path d="M320.0,586.5 L348.0,584.5" fill="none" stroke="#000" stroke-width="1.79"/>
<path d="M320.0,584.6 L346.0,583.0" fill="none" stroke="#000" stroke-width="1.12"/>
<path d="M294.2,617.5 L294.2,618.3 L295.5,616.4 L296.8,618.3 L298.1,616.4 L299.4,618.3 L300.7,616.4 L302.0,618.3 L303.3,616.4 L304.6,618.3 L305.9,616.4 L307.2,618.3 L308.5,616.4 L309.8,618.3 L311.1,616.4 L312.4,618.3 L313.7,616.4 L315.0,618.3 L316.3,616.4 L317.6,618.3 L318.9,616.4" fill="none" stroke="#000" stroke-width="1.57"/>
<path d="M320,618 Q322.8,611.8 325.6,617.8 Q328.4,611.8 331.2,617.7 Q334.0,611.8 336.8,617.5 Q339.6,611.8 342.4,617.3 Q345.2,611.8 348.0,617.2" fill="none" stroke="#000" stroke-width="1.79"/>
<path d="M346.6,587.5 L375.3,585.2" fill="none" stroke="#000" stroke-width="1.23"/>
<path d="M377.4,589.5 L393,588.8 Q398.6,589 398.6,592 L398.6,594.3" fill="none" stroke="#000" stroke-width="1.46"/>
<path d="M377.4,595.3 L408.5,593.4 Q412.7,594 412.7,598.3 Q412.7,602.5 408.5,603.3 L377.4,603.6" fill="none" stroke="#000" stroke-width="1.57"/>
<path d="M407.8,593.5 L408.2,603.2" fill="none" stroke="#000" stroke-width="1.12"/>
</svg></body></html>
